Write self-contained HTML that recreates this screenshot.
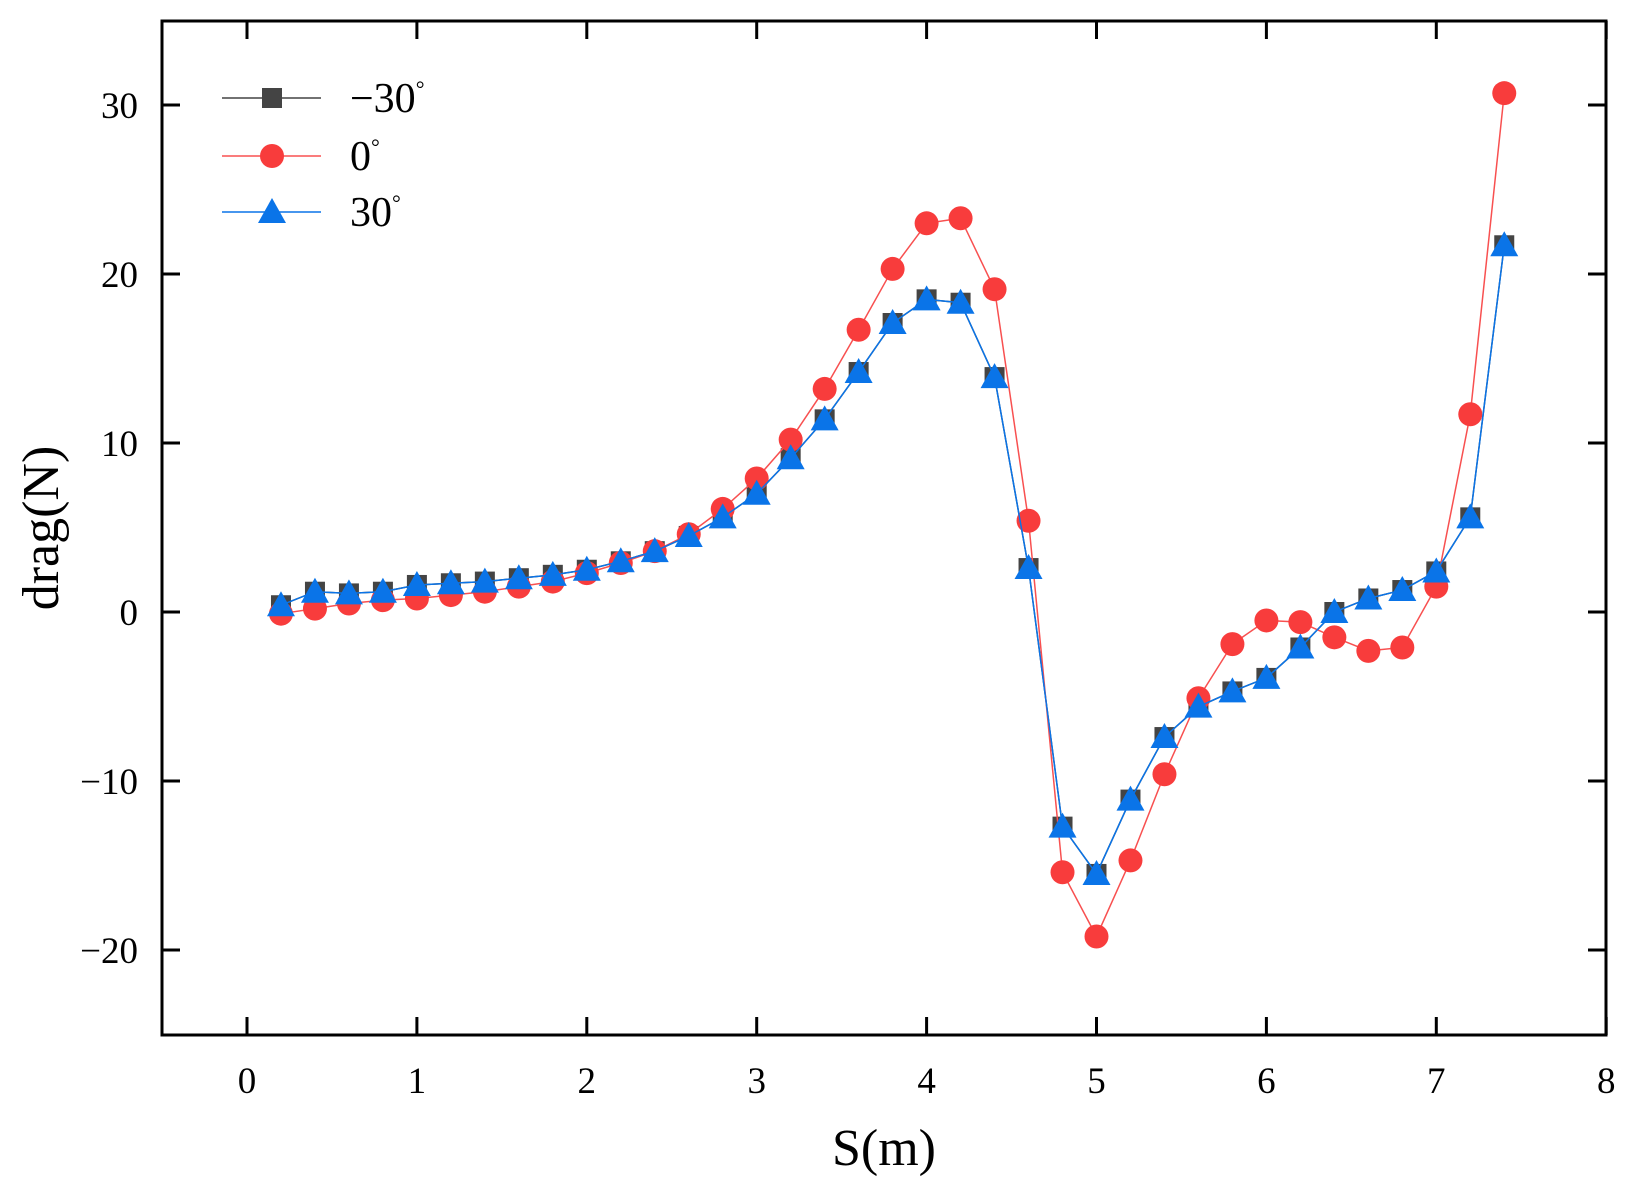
<!DOCTYPE html>
<html><head><meta charset="utf-8"><style>html,body{margin:0;padding:0;background:#fff}svg{display:block}</style></head>
<body>
<svg id="s" width="1626" height="1187" xmlns="http://www.w3.org/2000/svg" font-family="'Liberation Serif',serif"></svg>
<script>
const s=document.getElementById('s');
const X=v=>247+v*169.9, Y=v=>612-v*16.9;
let h='';
const red=[-0.1,0.2,0.5,0.7,0.8,1.0,1.2,1.5,1.8,2.3,2.9,3.6,4.6,6.1,7.9,10.2,13.2,16.7,20.3,23.0,23.3,19.1,5.4,-15.4,-19.2,-14.7,-9.6,-5.1,-1.9,-0.5,-0.6,-1.5,-2.3,-2.1,1.5,11.7,30.7];
const blu=[0.4,1.2,1.1,1.2,1.6,1.7,1.8,2.0,2.2,2.5,3.0,3.6,4.5,5.6,7.0,9.1,11.4,14.2,17.1,18.5,18.3,13.9,2.6,-12.7,-15.5,-11.1,-7.4,-5.6,-4.7,-3.9,-2.1,0.0,0.8,1.3,2.4,5.6,21.7];
const xs=red.map((_,i)=>0.2+0.2*i);
const sq=(x,y)=>`<rect x="${x-10}" y="${y-10}" width="20" height="20" fill="#444"/>`;
const ci=(x,y)=>`<circle cx="${x}" cy="${y}" r="12" fill="#f83c3c"/>`;
const tr=(x,y)=>`<polygon points="${x},${y-14} ${x-14},${y+11} ${x+14},${y+11}" fill="#0a74e8"/>`;
const pl=(d,c)=>`<polyline fill="none" stroke="${c}" stroke-width="1.5" points="${d.map((v,i)=>X(xs[i])+','+Y(v)).join(' ')}"/>`;
h+=pl(blu,'#444')+blu.map((v,i)=>sq(X(xs[i]),Y(v))).join('');
h+=pl(red,'#f85050')+red.map((v,i)=>ci(X(xs[i]),Y(v))).join('');
h+=pl(blu,'#0a74e8')+blu.map((v,i)=>tr(X(xs[i]),Y(v))).join('');
h+=`<rect x="162" y="21" width="1444" height="1014" fill="none" stroke="#000" stroke-width="3"/>`;
for(let i=0;i<=8;i++){const x=X(i);h+=`<line x1="${x}" y1="1035" x2="${x}" y2="1017" stroke="#000" stroke-width="3"/><line x1="${x}" y1="21" x2="${x}" y2="39" stroke="#000" stroke-width="3"/><text x="${x}" y="1093" font-size="37" text-anchor="middle">${i}</text>`;}
for(let v=-20;v<=30;v+=10){const y=Y(v);h+=`<line x1="162" y1="${y}" x2="180" y2="${y}" stroke="#000" stroke-width="3"/><line x1="1606" y1="${y}" x2="1588" y2="${y}" stroke="#000" stroke-width="3"/><text x="138" y="${y+13}" font-size="37" text-anchor="end">${v<0?'\u2212'+(-v):v}</text>`;}
h+=`<text x="884" y="1165" font-size="52" text-anchor="middle">S(m)</text>`;
h+=`<text transform="translate(58,528) rotate(-90)" font-size="52" text-anchor="middle">drag(N)</text>`;
const L=[[98,'#444',sq,'\u221230'],[156,'#f85050',ci,'0'],[212,'#0a74e8',tr,'30']];
for(const [y,c,f,t] of L){h+=`<line x1="222" y1="${y}" x2="321" y2="${y}" stroke="${c}" stroke-width="1.5"/>`+f(272,y)+`<text x="350" y="${y+14}" font-size="42">${t}<tspan font-size="22" dy="-16">\u00b0</tspan></text>`;}
s.innerHTML=h;
</script>
</body></html>
